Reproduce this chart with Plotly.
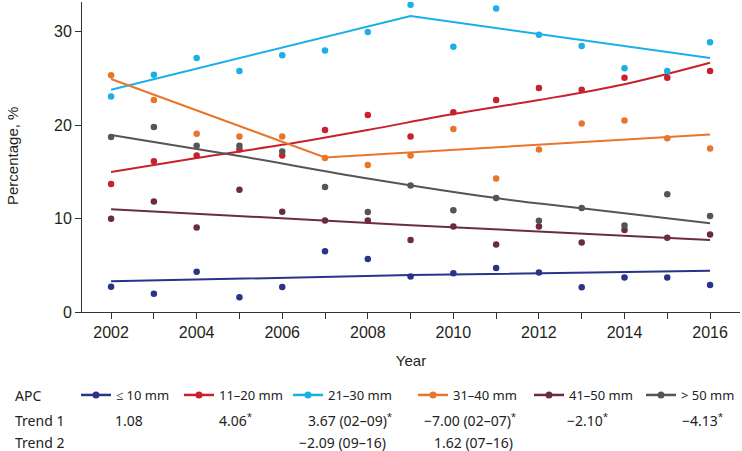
import plotly.graph_objects as go

# Observed percentages by tumour size group
years = list(range(2002, 2017))
groups = ["≤ 10 mm", "11–20 mm", "21–30 mm", "31–40 mm", "41–50 mm", "> 50 mm"]
colors = ["#28348a", "#c8202d", "#1aafe6", "#e8762a", "#6b2d3c", "#555555"]

le10 = [2.7, 1.96, 4.3, 1.57, 2.67, 6.5, 5.67, 3.8, 4.14, 4.7, 4.24, 2.64, 3.7, 3.7, 2.89]
mm11_20 = [13.7, 16.15, 16.76, 17.4, 16.76, 19.5, 21.1, 18.8, 21.4, 22.7, 24.0, 23.8, 25.1, 25.1, 25.8]
mm21_30 = [23.07, 25.4, 27.2, 25.8, 27.5, 28.0, 30.0, 32.9, 28.4, 32.5, 29.7, 28.5, 26.1, 25.8, 28.9]
mm31_40 = [25.35, 22.7, 19.1, 18.8, 18.8, 16.5, 15.75, 16.76, 19.6, 14.3, 17.4, 20.2, 20.5, 18.6, 17.5]
mm41_50 = [9.98, 11.84, 9.06, 13.1, 10.73, 9.8, 9.8, 7.7, 9.17, 7.24, 9.17, 7.45, 8.77, 7.95, 8.3]
gt50 = [18.75, 19.8, 17.8, 17.8, 17.2, 13.4, 10.7, 13.55, 10.9, 12.2, 9.76, 11.15, 9.27, 12.6, 10.27]

# Joinpoint trend lines
trend_x = [
    [2002, 2009, 2016],
    [2002, 2004, 2006, 2008, 2010, 2012, 2014, 2016],
    [2002, 2009, 2016],
    [2002, 2007, 2016],
    [2002, 2009, 2016],
    [2002, 2005, 2008, 2011, 2013, 2016],
]
trend_y = [
    [3.28, 3.95, 4.42],
    [15.0, 16.5, 17.9, 19.5, 21.2, 22.7, 24.4, 26.7],
    [23.8, 31.7, 27.2],
    [24.95, 16.55, 19.0],
    [11.0, 9.3, 7.7],
    [18.96, 16.7, 14.3, 12.2, 11.1, 9.5],
]

# APC table
trend1 = ["1.08", "4.06", "3.67 (02–09)", "−7.00 (02–07)", "−2.10", "−4.13"]
trend1_sig = [False, True, True, True, True, True]
trend2 = ["", "", "−2.09 (09–16)", "1.62 (07–16)", "", ""]

series = [le10, mm11_20, mm21_30, mm31_40, mm41_50, gt50]

# pixel helpers for the page layout
W, H = 742, 451
L, R, T, B = 82, 2, 2, 139


def px_x(px):
    return (px - L) / (W - L - R)


def px_y(py):
    return (H - B - py) / (H - B - T)


fig = go.Figure()

for i, name in enumerate(groups):
    fig.add_trace(
        go.Scatter(
            x=years,
            y=series[i],
            mode="markers",
            marker=dict(color=colors[i], size=6.5),
            showlegend=False,
            hoverinfo="x+y",
        )
    )
    fig.add_trace(
        go.Scatter(
            x=trend_x[i],
            y=trend_y[i],
            mode="lines",
            line=dict(color=colors[i], width=2, shape="spline" if len(trend_x[i]) > 3 else "linear"),
            showlegend=False,
            hoverinfo="skip",
        )
    )

# one legend per group so each entry sits at its own spot
legend_px = [76, 179, 288, 413, 529, 641]
legend_layouts = {}
for i, name in enumerate(groups):
    key = "legend" if i == 0 else f"legend{i + 1}"
    fig.add_trace(
        go.Scatter(
            x=[2002],
            y=[-50],
            mode="lines+markers",
            name=name,
            line=dict(color=colors[i], width=2.5),
            marker=dict(color=colors[i], size=7),
            legend=key,
            hoverinfo="skip",
        )
    )
    legend_layouts[key] = dict(
        xref="container",
        yref="container",
        x=legend_px[i] / W,
        y=(H - 395) / H,
        xanchor="left",
        yanchor="middle",
        bgcolor="rgba(0,0,0,0)",
        font=dict(family="Noto Sans", size=13, color="#222222"),
        itemclick=False,
    )

table_font = dict(family="Noto Sans", size=14, color="#222222")
axis_font = dict(family="Liberation Sans", size=16, color="#231f20")
title_font = dict(family="Liberation Sans", size=15, color="#231f20")

annotations = [
    dict(x=px_x(12), y=px_y(156), xref="paper", yref="paper", text="Percentage, %",
         textangle=-90, showarrow=False, xanchor="center", yanchor="middle", font=title_font),
]
for label, py in [("APC", 395), ("Trend 1", 420), ("Trend 2", 442)]:
    annotations.append(
        dict(x=px_x(13), y=px_y(py), xref="paper", yref="paper", text=label,
             showarrow=False, xanchor="left", yanchor="middle", font=table_font)
    )

trend1_px = [113, 217, 306, 422, 565, 680]
for i, txt in enumerate(trend1):
    annotations.append(
        dict(x=px_x(trend1_px[i]), y=px_y(420), xref="paper", yref="paper",
             text=txt + ("<sup>*</sup>" if trend1_sig[i] else ""),
             showarrow=False, xanchor="left", yanchor="middle", font=table_font)
    )

trend2_px = [0, 0, 297, 432, 0, 0]
for i, txt in enumerate(trend2):
    if txt:
        annotations.append(
            dict(x=px_x(trend2_px[i]), y=px_y(442), xref="paper", yref="paper",
                 text=txt, showarrow=False, xanchor="left", yanchor="middle", font=table_font)
        )

fig.update_layout(
    width=W,
    height=H,
    margin=dict(l=L, r=R, t=T, b=B, autoexpand=False),
    plot_bgcolor="white",
    paper_bgcolor="white",
    annotations=annotations,
    xaxis=dict(
        range=[2001.32, 2016.7],
        tickmode="linear",
        tick0=2002,
        dtick=2,
        ticks="outside",
        ticklen=6,
        tickcolor="#333333",
        minor=dict(dtick=1, tick0=2002, ticks="outside", ticklen=6, tickcolor="#333333"),
        showline=True,
        linecolor="#333333",
        linewidth=1,
        showgrid=False,
        zeroline=False,
        tickfont=axis_font,
        title=dict(text="Year", font=title_font, standoff=15),
    ),
    yaxis=dict(
        range=[0, 33.2],
        tickvals=[0, 10, 20, 30],
        ticks="outside",
        ticklen=6,
        tickcolor="#333333",
        showline=True,
        linecolor="#333333",
        linewidth=1,
        showgrid=False,
        zeroline=False,
        tickfont=axis_font,
    ),
    **legend_layouts,
)

# drop the browser's default 8px page margin so the figure sits at the corner
fig.write_html(
    "out.html",
    config={"displayModeBar": False},
    post_script="document.body.style.margin='0';",
)
